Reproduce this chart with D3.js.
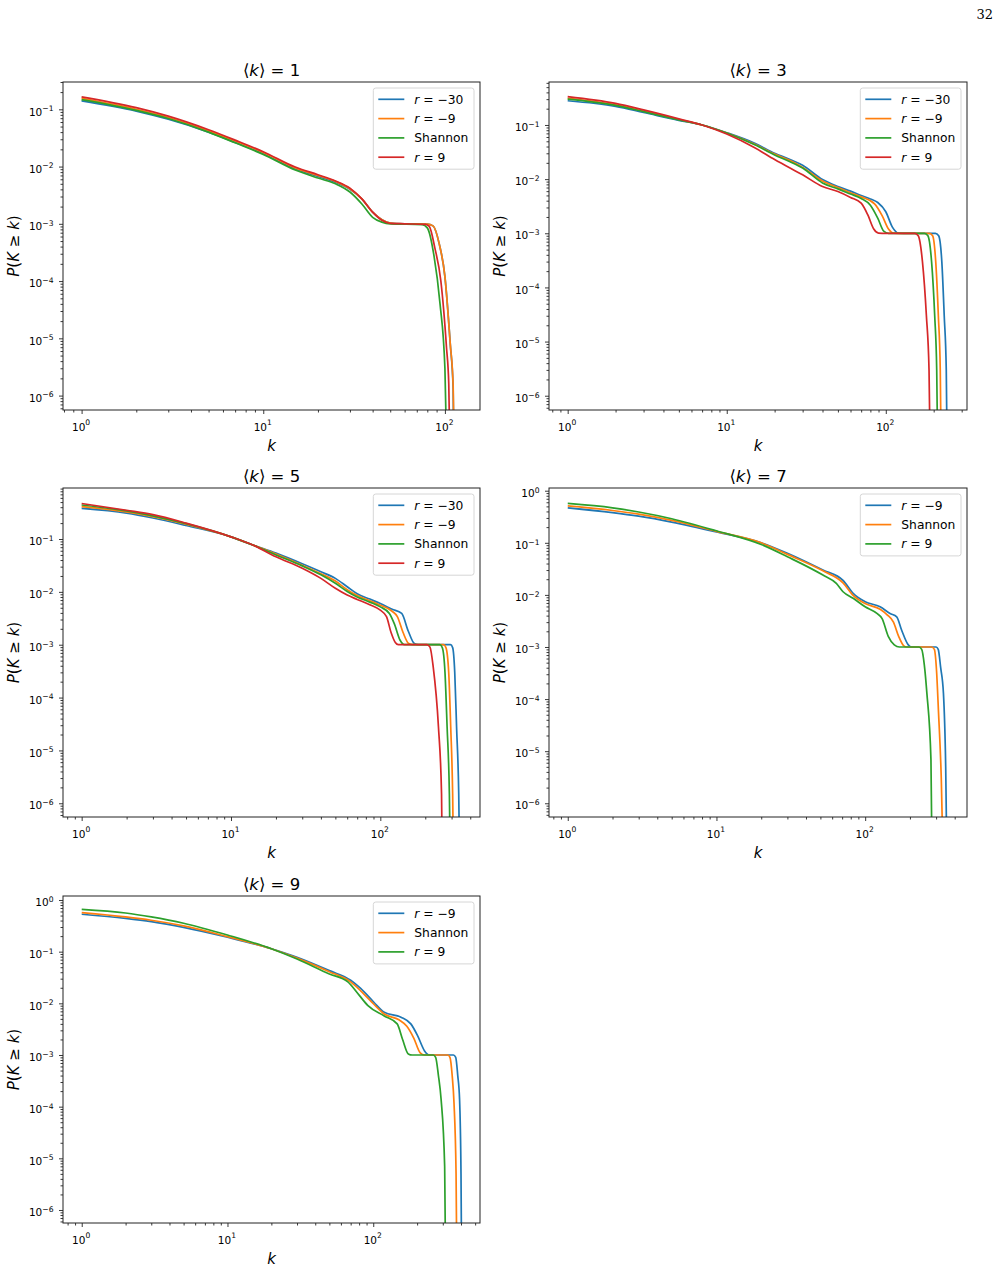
<!DOCTYPE html>
<html>
<head>
<meta charset="utf-8">
<script src="https://cdn.jsdelivr.net/npm/d3@7"></script>
<style>
  body { margin: 0; background: #fff; }
  svg text { font-family: "DejaVu Sans", sans-serif; fill: #000; }
</style>
</head>
<body>
<div id="chart"></div>
<script>
// complementary cumulative degree distributions, [k, P(K >= k)]

// <k> = 1
const k1_rm30 = [[1,0.14],[2,0.093],[3,0.067],[5,0.04],[7,0.0265],[10,0.0168],[15,0.0091],[20,0.0067],[25,0.0053],[30,0.004],[35,0.0027],[40,0.0016],[45,0.00118],[50,0.00103],[60,0.001],[80,0.00099],[86,0.00092],[93,0.00045],[100,0.00012],[107,8e-6],[111,1.3e-6],[113,1e-8]];
const k1_rm9 = [[1,0.155],[2,0.1],[3,0.072],[5,0.042],[7,0.028],[10,0.0176],[15,0.0095],[20,0.007],[25,0.0055],[30,0.0041],[35,0.0027],[40,0.0016],[45,0.00118],[50,0.00103],[60,0.001],[80,0.00099],[86,0.00092],[93,0.00045],[100,0.00012],[107,8e-6],[111,1.5e-6],[114,1e-8]];
const k1_shannon = [[1,0.148],[2,0.096],[3,0.069],[5,0.04],[7,0.026],[10,0.0163],[15,0.0087],[20,0.0063],[25,0.005],[30,0.0036],[35,0.0022],[40,0.0013],[45,0.00107],[50,0.001],[75,0.00097],[80,0.00085],[87,0.00028],[94,4e-5],[100,3e-6],[104,1e-8]];
const k1_r9 = [[1,0.165],[2,0.107],[3,0.076],[5,0.044],[7,0.029],[10,0.0182],[15,0.0098],[20,0.0072],[25,0.0056],[30,0.0042],[35,0.0027],[40,0.0016],[45,0.00115],[50,0.00102],[60,0.001],[78,0.00098],[82,0.0009],[88,0.00038],[95,0.0001],[102,7e-6],[105,1.6e-6],[108,1e-8]];

// <k> = 3
const k3_rm30 = [[1,0.28],[2,0.22],[3,0.17],[5,0.122],[7,0.1],[10,0.072],[15,0.046],[20,0.03],[25,0.023],[30,0.018],[40,0.0098],[50,0.0073],[60,0.006],[70,0.005],[80,0.0043],[89,0.0037],[100,0.0025],[110,0.0013],[120,0.00101],[140,0.001],[205,0.001],[215,0.0009],[225,0.0003],[233,3e-5],[240,3e-6],[245,1e-8]];
const k3_rm9 = [[1,0.31],[2,0.235],[3,0.18],[5,0.126],[7,0.1],[10,0.071],[15,0.044],[20,0.029],[25,0.022],[30,0.0165],[40,0.0092],[50,0.007],[60,0.0056],[70,0.0047],[85,0.0035],[95,0.0021],[104,0.0012],[112,0.00101],[130,0.001],[188,0.001],[197,0.0009],[206,0.0003],[214,3e-5],[220,3e-6],[225,1e-8]];
const k3_shannon = [[1,0.3],[2,0.23],[3,0.176],[5,0.124],[7,0.1],[10,0.071],[15,0.043],[20,0.028],[25,0.021],[30,0.016],[40,0.0085],[50,0.0066],[60,0.0053],[70,0.0044],[80,0.0033],[89,0.0019],[97,0.0011],[104,0.001],[120,0.001],[175,0.001],[184,0.0009],[194,0.0003],[203,3e-5],[209,3e-6],[214,1e-8]];
const k3_r9 = [[1,0.333],[2,0.25],[3,0.19],[5,0.13],[7,0.1],[10,0.068],[15,0.038],[20,0.023],[25,0.016],[30,0.012],[40,0.0073],[50,0.0059],[60,0.0046],[70,0.0036],[77,0.0022],[84,0.0012],[90,0.00101],[100,0.001],[152,0.001],[160,0.0009],[170,0.0003],[180,3e-5],[187,3e-6],[192,1e-8]];

// <k> = 5
const k5_rm30 = [[1,0.38],[2,0.31],[3,0.25],[5,0.18],[10,0.11],[14,0.077],[20,0.054],[30,0.034],[40,0.024],[50,0.018],[60,0.0125],[70,0.0092],[85,0.0073],[100,0.006],[120,0.0047],[139,0.0039],[154,0.0018],[169,0.00105],[180,0.001],[295,0.001],[305,0.00088],[315,0.0003],[324,2.8e-5],[335,1.5e-6],[343,1e-8]];
const k5_rm9 = [[1,0.41],[2,0.325],[3,0.265],[5,0.19],[10,0.11],[14,0.077],[20,0.052],[30,0.032],[40,0.022],[50,0.016],[60,0.011],[70,0.0085],[85,0.0068],[100,0.0056],[120,0.0043],[130,0.0034],[142,0.0017],[155,0.00105],[165,0.001],[265,0.001],[275,0.00088],[287,0.0003],[296,2.8e-5],[305,1.5e-6],[312,1e-8]];
const k5_shannon = [[1,0.44],[2,0.34],[3,0.275],[5,0.195],[10,0.11],[14,0.077],[20,0.05],[30,0.031],[40,0.021],[50,0.0145],[60,0.0102],[70,0.008],[85,0.0064],[100,0.0052],[115,0.0039],[124,0.0025],[136,0.0012],[145,0.001],[250,0.001],[260,0.00088],[271,0.0003],[280,2.8e-5],[290,1.5e-6],[297,1e-8]];
const k5_r9 = [[1,0.47],[2,0.35],[3,0.29],[5,0.2],[10,0.11],[14,0.077],[20,0.046],[30,0.028],[40,0.018],[50,0.0117],[60,0.0087],[70,0.0072],[85,0.0057],[100,0.0045],[110,0.0034],[118,0.0017],[126,0.0011],[132,0.001],[205,0.001],[215,0.0009],[226,0.00038],[245,2.8e-5],[257,1.5e-6],[262,1e-8]];

// <k> = 7
const k7_rm9 = [[1,0.47],[2,0.38],[3,0.324],[5,0.25],[10,0.162],[20,0.1],[30,0.063],[52,0.03],[71,0.019],[83,0.0107],[100,0.0074],[126,0.0059],[147,0.0044],[163,0.0038],[176,0.0021],[195,0.0011],[205,0.001],[300,0.001],[310,0.0009],[322,0.0004],[336,0.00013],[348,5e-6],[358,1e-8]];
const k7_shannon = [[1,0.51],[2,0.417],[3,0.355],[5,0.27],[10,0.166],[20,0.1],[30,0.06],[52,0.029],[71,0.017],[83,0.0098],[100,0.0068],[126,0.0053],[140,0.0042],[155,0.003],[168,0.0016],[182,0.00105],[190,0.001],[280,0.001],[292,0.0009],[302,0.00035],[311,6e-5],[325,3e-6],[340,1e-8]];
const k7_r9 = [[1,0.57],[2,0.47],[3,0.39],[5,0.29],[10,0.17],[20,0.093],[30,0.054],[52,0.024],[64,0.0166],[71,0.0115],[83,0.0086],[100,0.0059],[120,0.0044],[130,0.0035],[143,0.0016],[157,0.0011],[170,0.001],[230,0.001],[240,0.0009],[250,0.00045],[260,0.00013],[277,6.8e-6],[284,1e-8]];

// <k> = 9
const k9_rm9 = [[1,0.53],[2,0.44],[3,0.38],[5,0.295],[10,0.19],[20,0.114],[30,0.078],[50,0.043],[70,0.028],[82,0.0194],[101,0.0105],[119,0.0067],[155,0.0054],[181,0.004],[201,0.0024],[225,0.0012],[242,0.001],[355,0.001],[368,0.0009],[380,0.0004],[391,0.00014],[400,5e-6],[406,1e-8]];
const k9_shannon = [[1,0.57],[2,0.47],[3,0.405],[5,0.315],[10,0.195],[20,0.114],[30,0.075],[50,0.041],[70,0.026],[82,0.0175],[101,0.0096],[119,0.0062],[150,0.0048],[170,0.0036],[190,0.0021],[210,0.0011],[225,0.001],[325,0.001],[336,0.0009],[348,0.0004],[358,0.00012],[370,5e-6],[377,1e-8]];
const k9_r9 = [[1,0.66],[2,0.56],[3,0.47],[5,0.355],[10,0.21],[20,0.114],[30,0.072],[50,0.037],[67,0.026],[80,0.0144],[92,0.009],[119,0.0057],[146,0.004],[159,0.002],[174,0.00105],[185,0.001],[258,0.001],[268,0.0009],[280,0.0004],[292,0.00014],[309,7e-6],[316,1e-8]];

const labels4 = ['r = −30', 'r = −9', 'Shannon', 'r = 9'];
const labels3 = ['r = −9', 'Shannon', 'r = 9'];
const colors = ['#1f77b4', '#ff7f0e', '#2ca02c', '#d62728'];

const panels = [
  {mean: 1, series: [k1_rm30, k1_rm9, k1_shannon, k1_r9], labels: labels4, box: [63, 480, 82, 410], xdom: [0.79, 156], ydom: [5.6e-7, 0.3]},
  {mean: 3, series: [k3_rm30, k3_rm9, k3_shannon, k3_r9], labels: labels4, box: [549, 967, 82, 410], xdom: [0.763, 324], ydom: [5.45e-7, 0.622]},
  {mean: 5, series: [k5_rm30, k5_rm9, k5_shannon, k5_r9], labels: labels4, box: [63, 480, 488, 817], xdom: [0.75, 465], ydom: [5.5e-7, 0.923]},
  {mean: 7, series: [k7_rm9, k7_shannon, k7_r9], labels: labels3, box: [549, 967, 488, 817], xdom: [0.748, 484], ydom: [5.45e-7, 1.127]},
  {mean: 9, series: [k9_rm9, k9_shannon, k9_r9], labels: labels3, box: [63, 480, 896, 1223], xdom: [0.744, 540], ydom: [5.6e-7, 1.195]}
];

const svg = d3.select('#chart').append('svg')
  .attr('width', 999)
  .attr('height', 1271);

svg.append('text')
  .attr('x', 993).attr('y', 19)
  .attr('text-anchor', 'end')
  .style('font-family', '"DejaVu Serif", "Liberation Serif", serif')
  .style('font-size', '13px')
  .text('32');

function log_ticks(dom) {
  const major = [], minor = [];
  const lo = Math.floor(Math.log10(dom[0])), hi = Math.ceil(Math.log10(dom[1]));
  for (let e = lo; e <= hi; e++) {
    for (let m = 1; m < 10; m++) {
      const v = m * Math.pow(10, e);
      if (v < dom[0] * 0.9999 || v > dom[1] * 1.0001) continue;
      if (m == 1) major.push(v); else minor.push(v);
    }
  }
  return {major, minor};
}

function pow_label(sel, anchor, sup_dy) {
  sel.each(function(d) {
    const e = Math.round(Math.log10(d));
    const t = d3.select(this);
    t.attr('text-anchor', anchor).style('font-size', '10.5px');
    t.append('tspan').text('10');
    t.append('tspan').attr('dy', sup_dy).style('font-size', '7.6px')
      .text(e < 0 ? '−' + (-e) : String(e));
  });
}

function draw_panel(p, idx) {
  const [x0, x1, y0, y1] = p.box;
  const x = d3.scaleLog().domain(p.xdom).range([x0, x1]);
  const y = d3.scaleLog().domain(p.ydom).range([y1, y0]);
  const g = svg.append('g');

  g.append('clipPath').attr('id', 'clip' + idx)
    .append('rect').attr('x', x0).attr('y', y0).attr('width', x1 - x0).attr('height', y1 - y0);

  const line = d3.line()
    .x((d) => x(d[0]))
    .y((d) => y(d[1]))
    .curve(d3.curveMonotoneX);

  g.append('g').attr('clip-path', 'url(#clip' + idx + ')')
    .selectAll('path')
    .data(p.series)
    .enter()
    .append('path')
      .attr('d', line)
      .attr('fill', 'none')
      .attr('stroke', (d, i) => colors[i])
      .attr('stroke-width', 1.7)
      .attr('stroke-linejoin', 'round');

  // axes: major + minor ticks
  const xt = log_ticks(p.xdom), yt = log_ticks(p.ydom);

  g.append('g').attr('transform', 'translate(0,' + y1 + ')')
    .call(d3.axisBottom(x).tickValues(xt.minor).tickSize(2.5).tickSizeOuter(0).tickFormat(''));
  const xa = g.append('g').attr('transform', 'translate(0,' + y1 + ')')
    .call(d3.axisBottom(x).tickValues(xt.major).tickSize(4).tickSizeOuter(0).tickFormat(''));
  xa.selectAll('.tick text').remove();
  xa.selectAll('.tick').append('text')
    .attr('x', -1).attr('y', 20.7)
    .call(pow_label, 'middle', -5.5);

  g.append('g').attr('transform', 'translate(' + x0 + ',0)')
    .call(d3.axisLeft(y).tickValues(yt.minor).tickSize(2.5).tickSizeOuter(0).tickFormat(''));
  const ya = g.append('g').attr('transform', 'translate(' + x0 + ',0)')
    .call(d3.axisLeft(y).tickValues(yt.major).tickSize(4).tickSizeOuter(0).tickFormat(''));
  ya.selectAll('.tick text').remove();
  ya.selectAll('.tick').append('text')
    .attr('x', -9.5).attr('y', 5.7)
    .call(pow_label, 'end', -4.3);

  g.selectAll('.domain').remove();
  g.selectAll('.tick line').attr('stroke', '#222').attr('stroke-width', 0.9);

  g.append('rect')
    .attr('x', x0).attr('y', y0)
    .attr('width', x1 - x0).attr('height', y1 - y0)
    .attr('fill', 'none')
    .attr('stroke', '#222')
    .attr('stroke-width', 1);

  // title
  const title = g.append('text')
    .attr('x', (x0 + x1) / 2).attr('y', y0 - 6.3)
    .attr('text-anchor', 'middle')
    .style('font-size', '16.5px');
  title.append('tspan').text('⟨');
  title.append('tspan').style('font-style', 'italic').text('k');
  title.append('tspan').text('⟩ = ' + p.mean);

  // axis labels
  g.append('text')
    .attr('x', (x0 + x1) / 2).attr('y', y1 + 41)
    .attr('text-anchor', 'middle')
    .style('font-size', '15px')
    .style('font-style', 'italic')
    .text('k');

  const yl = g.append('text')
    .attr('transform', 'translate(' + (x0 - 44) + ',' + ((y0 + y1) / 2) + ') rotate(-90)')
    .attr('text-anchor', 'middle')
    .style('font-size', '15px');
  yl.append('tspan').style('font-style', 'italic').text('P');
  yl.append('tspan').text('(');
  yl.append('tspan').style('font-style', 'italic').text('K');
  yl.append('tspan').text(' ≥ ');
  yl.append('tspan').style('font-style', 'italic').text('k');
  yl.append('tspan').text(')');

  // legend
  const n = p.labels.length;
  const lw = 100.7, lh = n * 19.3 + 4;
  const lx = x1 - 6 - lw, ly = y0 + 6;
  const lg = g.append('g');
  lg.append('rect')
    .attr('x', lx).attr('y', ly)
    .attr('width', lw).attr('height', lh)
    .attr('rx', 2.5)
    .attr('fill', 'white').attr('fill-opacity', 0.8)
    .attr('stroke', '#d6d6d6').attr('stroke-width', 1);
  p.labels.forEach((lab, i) => {
    const cy = ly + 11.3 + i * 19.3;
    lg.append('line')
      .attr('x1', lx + 5).attr('x2', lx + 31)
      .attr('y1', cy).attr('y2', cy)
      .attr('stroke', colors[i]).attr('stroke-width', 1.7);
    const t = lg.append('text')
      .attr('x', lx + 41).attr('y', cy + 4.4)
      .style('font-size', '12.3px');
    if (lab.startsWith('r ')) {
      t.append('tspan').style('font-style', 'italic').text('r');
      t.append('tspan').text(lab.slice(1));
    } else {
      t.text(lab);
    }
  });
}

panels.forEach(draw_panel);
</script>
</body>
</html>
